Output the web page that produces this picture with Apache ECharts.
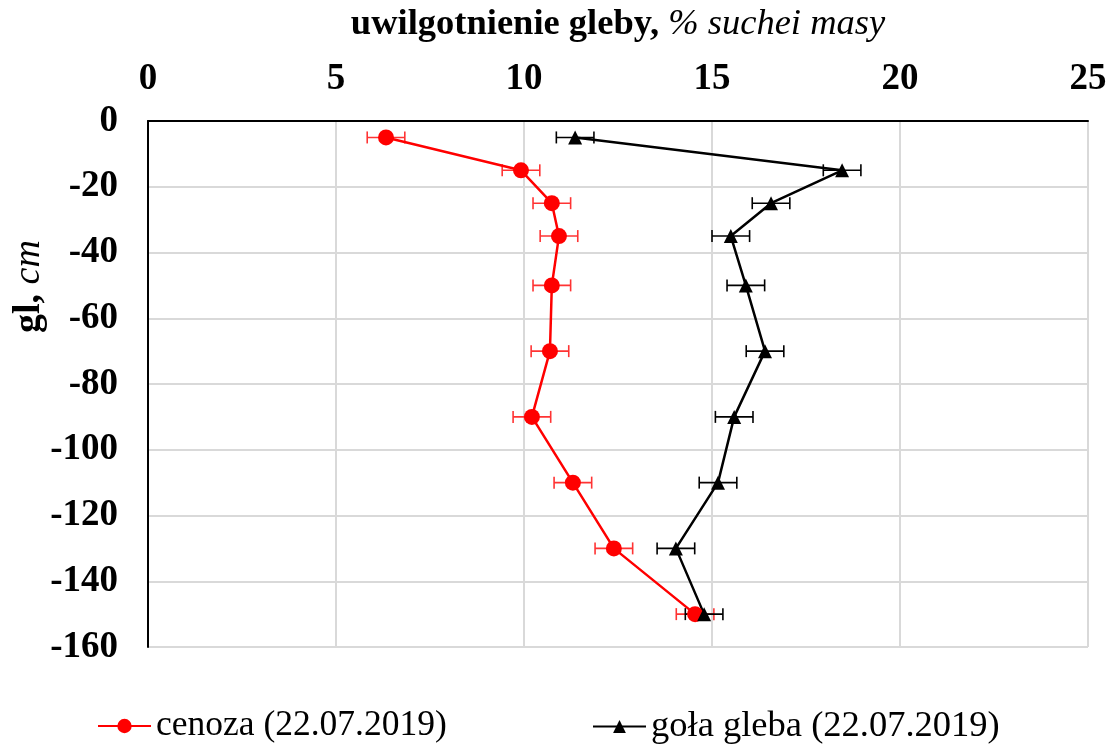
<!DOCTYPE html>
<html>
<head>
<meta charset="utf-8">
<script src="https://cdn.jsdelivr.net/npm/echarts@6/dist/echarts.min.js"></script>
<style>html,body{margin:0;padding:0;background:#fff;}#c{width:1115px;height:744px;}</style>
</head>
<body>
<div id="c"></div>
<script>
const depths = [-5, -15, -25, -35, -50, -70, -90, -110, -130, -150];
const cenoza = [6.33, 9.92, 10.74, 10.93, 10.74, 10.69, 10.21, 11.30, 12.39, 14.55];
const cenozaErr = [0.5, 0.5, 0.5, 0.5, 0.5, 0.5, 0.5, 0.5, 0.5, 0.5];
const gola = [11.36, 18.46, 16.57, 15.50, 15.90, 16.41, 15.59, 15.16, 14.04, 14.79];
const golaErr = [0.5, 0.5, 0.5, 0.5, 0.5, 0.5, 0.5, 0.5, 0.5, 0.5];
const seriesNames = ['cenoza (22.07.2019)', 'goła gleba (22.07.2019)'];
const xTitleBold = 'uwilgotnienie gleby, ';
const xTitleItalic = '% suchei masy';

const FONT = '"Liberation Serif", "Times New Roman", serif';

function errSeries(vals, errs, color) {
  return {
    type: 'custom',
    z: 1,
    silent: true,
    data: vals.map((v, i) => [v, depths[i], errs[i]]),
    renderItem: function (params, api) {
      const x = api.value(0), y = api.value(1), e = api.value(2);
      const p1 = api.coord([x - e, y]);
      const p2 = api.coord([x + e, y]);
      const cap = 6;
      const st = { stroke: color, lineWidth: 1.6 };
      return {
        type: 'group',
        children: [
          { type: 'line', shape: { x1: p1[0], y1: p1[1], x2: p2[0], y2: p2[1] }, style: st },
          { type: 'line', shape: { x1: p1[0], y1: p1[1] - cap, x2: p1[0], y2: p1[1] + cap }, style: st },
          { type: 'line', shape: { x1: p2[0], y1: p2[1] - cap, x2: p2[0], y2: p2[1] + cap }, style: st }
        ]
      };
    }
  };
}

const chart = echarts.init(document.getElementById('c'));
chart.setOption({
  animation: false,
  backgroundColor: '#fff',
  textStyle: { fontFamily: FONT },
  grid: { left: 148, top: 121, right: 27, bottom: 97, containLabel: false, outerBoundsMode: 'none' },
  xAxis: {
    type: 'value', position: 'top', min: 0, max: 25, interval: 5,
    name: '{b|' + xTitleBold + '}{i|' + xTitleItalic + '}',
    nameLocation: 'middle', nameGap: 78,
    nameTextStyle: {
      rich: {
        b: { fontFamily: FONT, fontWeight: 'bold', fontSize: 36.5, color: '#000' },
        i: { fontFamily: FONT, fontStyle: 'italic', fontSize: 36.5, color: '#000' }
      }
    },
    axisLine: { show: true, lineStyle: { color: '#000', width: 2 } },
    axisTick: { show: false },
    axisLabel: { fontFamily: FONT, fontWeight: 'bold', fontSize: 37, color: '#000', margin: 23 },
    splitLine: { show: true, lineStyle: { color: '#d9d9d9', width: 2 } }
  },
  yAxis: {
    type: 'value', min: -160, max: 0, interval: 20,
    axisLine: { show: true, onZero: false, lineStyle: { color: '#000', width: 2 } },
    axisTick: { show: false },
    axisLabel: { fontFamily: FONT, fontWeight: 'bold', fontSize: 37, color: '#000', margin: 30 },
    splitLine: { show: true, lineStyle: { color: '#d9d9d9', width: 2 } }
  },
  graphic: [{
    type: 'text', x: 10, y: 333, rotation: Math.PI / 2,
    style: {
      text: '{b|gl, }{i|cm}',
      rich: {
        b: { fontFamily: FONT, fontWeight: 'bold', fontSize: 38, fill: '#000' },
        i: { fontFamily: FONT, fontStyle: 'italic', fontSize: 38, fill: '#000' }
      }
    }
  }],
  legend: [
    { data: [seriesNames[0]], left: 92, top: 703, itemWidth: 53, itemHeight: 18, itemGap: 0,
      textStyle: { fontFamily: FONT, fontSize: 35.5, color: '#000' } },
    { data: [seriesNames[1]], left: 587, top: 703, itemWidth: 53, itemHeight: 16, itemGap: 0,
      textStyle: { fontFamily: FONT, fontSize: 36.5, color: '#000' } }
  ],
  series: [
    errSeries(cenoza, cenozaErr, '#ff3333'),
    errSeries(gola, golaErr, '#000'),
    {
      name: seriesNames[0], type: 'line', z: 3,
      data: cenoza.map((v, i) => [v, depths[i]]),
      symbol: 'circle', symbolSize: 16,
      lineStyle: { color: '#ff0000', width: 2.5 },
      itemStyle: { color: '#ff0000' }
    },
    {
      name: seriesNames[1], type: 'line', z: 3,
      data: gola.map((v, i) => [v, depths[i]]),
      symbol: 'triangle', symbolSize: 14,
      lineStyle: { color: '#000', width: 2.5 },
      itemStyle: { color: '#000' }
    }
  ]
});
</script>
</body>
</html>
